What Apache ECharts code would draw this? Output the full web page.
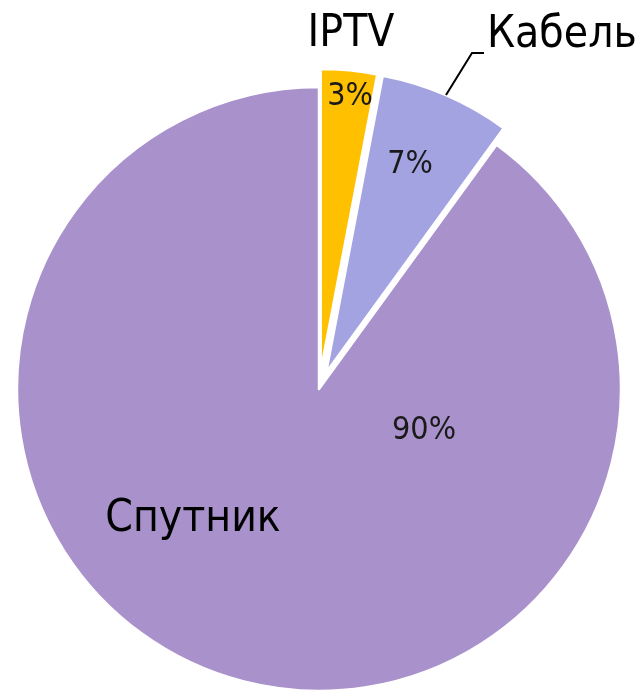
<!DOCTYPE html>
<html lang="ru">
  <head>
    <meta charset="UTF-8" />
    <title>Доля способов приёма ТВ</title>
    <script src="https://cdn.jsdelivr.net/npm/echarts@6.0.0/dist/echarts.min.js"></script>
    <style>
      html, body { margin: 0; padding: 0; background: #fff; }
      #container { width: 643px; height: 692px; }
    </style>
  </head>
  <body>
    <div id="container"></div>
    <script>
      // data
      const categories = ["IPTV", "Кабель", "Спутник"];
      const shares = [3, 7, 90];
      const exploded = [true, true, false];

      const colors = ["#FFC000", "#A2A3E0", "#A991CC"];
      const font = "'DejaVu Sans Condensed', 'DejaVu Sans', sans-serif";

      // label placement (px)
      const pctPos = [[350, 97], [410, 165], [424, 431]];
      const namePos = [[351, 35, "center"], [487, 36, "left"], [193, 520, "center"]];
      const leader = [[446, 95], [472, 53], [484, 53]];

      const center = [319, 389];
      const radius = 302;
      const explode = 18;

      const chart = echarts.init(document.getElementById("container"), null, { renderer: "canvas" });

      // shift each exploded slice along its own mid angle
      const total = shares.reduce((a, b) => a + b, 0);
      let acc = 0;
      const sliceSeries = shares.map((v, i) => {
        const mid = ((acc + v / 2) / total) * Math.PI * 2;
        acc += v;
        const d = exploded[i] ? explode : 0;
        return {
          type: "pie",
          center: [center[0] + d * Math.sin(mid), center[1] - d * Math.cos(mid)],
          radius: radius,
          startAngle: 90,
          clockwise: true,
          silent: true,
          z: 2,
          label: { show: false },
          labelLine: { show: false },
          data: categories.map((name, j) => ({
            name: name,
            value: shares[j],
            itemStyle: j === i
              ? { color: colors[j], borderColor: "#fff", borderWidth: 2.5 }
              : { color: "transparent", borderWidth: 0 }
          }))
        };
      });

      const labelBase = {
        type: "pie",
        center: center,
        radius: radius,
        startAngle: 90,
        clockwise: true,
        silent: true,
        avoidLabelOverlap: false,
        z: 3,
        itemStyle: { color: "transparent", borderWidth: 0 }
      };

      const option = {
        animation: false,
        series: sliceSeries.concat([
          Object.assign({}, labelBase, {
            label: {
              position: "inside",
              formatter: "{d}%",
              fontFamily: font,
              fontSize: 32,
              color: "#1a1a1a"
            },
            labelLine: { show: false },
            labelLayout: function (p) {
              const pos = pctPos[p.dataIndex];
              return { x: pos[0], y: pos[1], align: "center", verticalAlign: "middle" };
            },
            data: categories.map((name, i) => ({ name: name, value: shares[i] }))
          }),
          Object.assign({}, labelBase, {
            label: {
              position: "outside",
              formatter: "{b}",
              fontFamily: font,
              fontSize: 44,
              color: "#000"
            },
            labelLine: { show: true, lineStyle: { color: "#000", width: 2 } },
            labelLayout: function (p) {
              const pos = namePos[p.dataIndex];
              const out = { x: pos[0], y: pos[1], align: pos[2], verticalAlign: "middle" };
              if (p.dataIndex === 1) out.labelLinePoints = leader;
              return out;
            },
            data: categories.map((name, i) => ({
              name: name,
              value: shares[i],
              labelLine: { show: i === 1 }
            }))
          })
        ])
      };

      chart.setOption(option);
      window.addEventListener("resize", chart.resize);
    </script>
  </body>
</html>
